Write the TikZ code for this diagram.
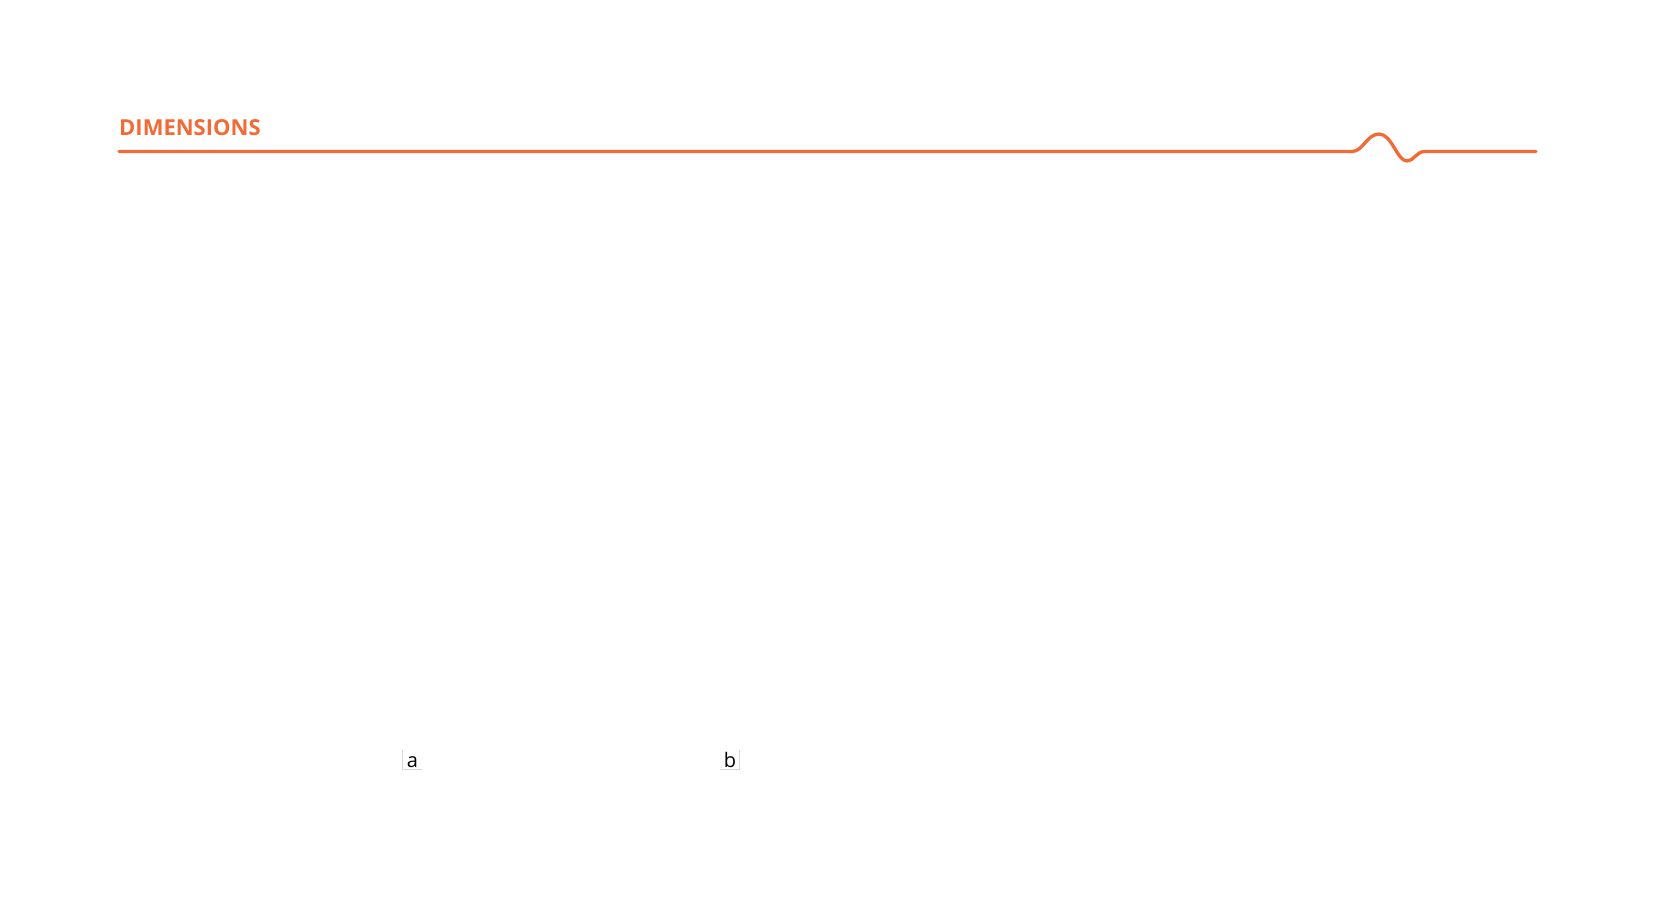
\documentclass[tikz,border=0pt]{standalone}
\usepackage{fontspec}
\setmainfont{Open Sans}
\definecolor{brand}{HTML}{F26A36}
\definecolor{boxedge}{HTML}{D8D8D8}
\begin{document}
\begin{tikzpicture}[x=1pt,y=-1pt,
  title/.style={anchor=base west,inner sep=0pt,text=brand,font=\fontsize{22}{24}\selectfont\bfseries},
  rule/.style={draw=brand,line width=3.3pt,line cap=round,line join=round},
  tag/.style={anchor=base,inner sep=0pt,text height=17pt,text depth=2pt,minimum width=19pt,fill=white,font=\fontsize{20}{20}\selectfont,text=black}]
\useasboundingbox (0,0) rectangle (1654,912);
\fill[white] (0,0) rectangle (1654,912);
\node[title] (t) at (119,136) {DIMENSIONS};
\coordinate (l0) at (119,151.5);
\coordinate (w0) at (1352,151.5);
\coordinate (wp) at (1379,134);
\coordinate (wt) at (1407,161);
\coordinate (w1) at (1425,151.5);
\coordinate (l1) at (1536,151.5);
\draw[rule] (l0) -- (w0)
  .. controls (1363,151.5) and (1367,134) .. (wp)
  .. controls (1392,134) and (1397,161) .. (wt)
  .. controls (1414,161) and (1416,151.5) .. (w1) -- (l1);
\node[tag] (a) at (412.5,767) {a};
\node[tag] (b) at (730,767) {b};
\draw[boxedge,line width=0.8pt] (a.north west) -- (a.south west) -- (a.south east);
\draw[boxedge,line width=0.8pt] (b.north east) -- (b.south east) -- (b.south west);
\end{tikzpicture}
\end{document}
